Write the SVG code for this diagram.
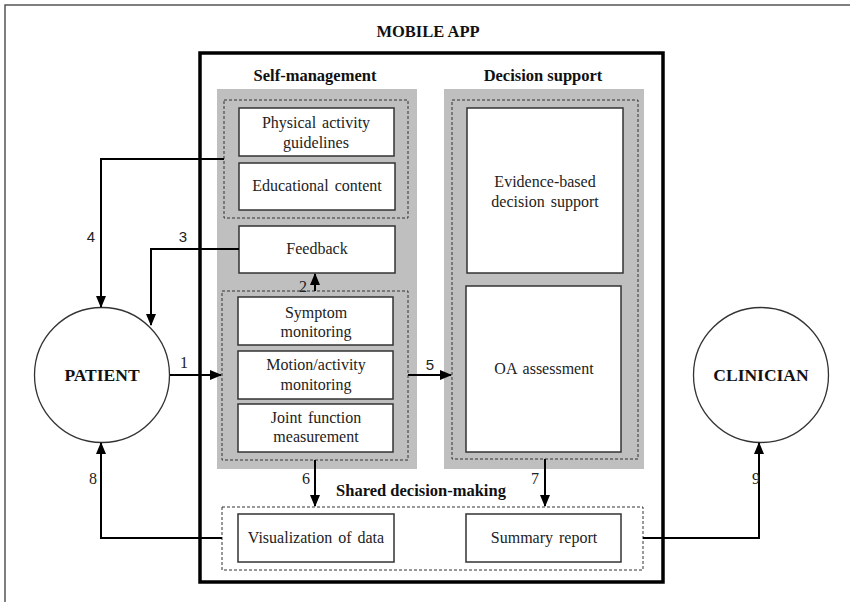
<svg xmlns="http://www.w3.org/2000/svg" width="850" height="602" viewBox="0 0 850 602">
<style>
.t{font-family:"Liberation Serif","Times New Roman",serif;font-size:16px;word-spacing:2px;fill:#222;text-anchor:middle}
.b{font-family:"Liberation Serif","Times New Roman",serif;font-size:16.5px;font-weight:bold;fill:#111;text-anchor:middle}
.c{font-family:"Liberation Serif","Times New Roman",serif;font-size:17.5px;font-weight:bold;fill:#111;text-anchor:middle}
.n{font-family:"Liberation Serif","Times New Roman",serif;font-size:16px;fill:#222;text-anchor:middle}
.ns{font-family:"Liberation Sans",Arial,sans-serif;font-size:15px;fill:#222;text-anchor:middle}
.box{fill:#fff;stroke:#333;stroke-width:1.5}
.grey{fill:#bfbfbf;stroke:none}
.dash{fill:none;stroke:#333;stroke-width:1;stroke-dasharray:3,2}
.con{fill:none;stroke:#000;stroke-width:2}
</style>
<defs>
<marker id="ah" markerUnits="userSpaceOnUse" markerWidth="12" markerHeight="10" refX="11" refY="5" orient="auto">
<path d="M0,0 L12,5 L0,10 Z" fill="#000"/>
</marker>
</defs>
<rect x="0" y="0" width="850" height="602" fill="#fff"/>
<path d="M5,602 V5 H850" fill="none" stroke="#555" stroke-width="1.5"/>

<g id="app">
<rect x="200" y="53" width="463" height="529" fill="#fff" stroke="#000" stroke-width="3.5"/>
<text class="b" x="428" y="37">MOBILE APP</text>
</g>

<g id="self-management">
<rect class="grey" x="217" y="89" width="200" height="380"/>
<text class="b" x="315" y="81">Self-management</text>
<rect class="dash" x="224" y="100" width="184" height="118"/>
<rect class="dash" x="222" y="291" width="186" height="169"/>
</g>
<g id="physical-activity"><rect class="box" x="239" y="108" width="155" height="48"/><text class="t" x="316" y="128">Physical activity</text><text class="t" x="316" y="148">guidelines</text></g>
<g id="educational"><rect class="box" x="239" y="163" width="156" height="47"/><text class="t" x="317" y="191">Educational content</text></g>
<g id="feedback"><rect class="box" x="239" y="226" width="156" height="47"/><text class="t" x="317" y="254">Feedback</text></g>
<g id="symptom"><rect class="box" x="238" y="297" width="155" height="48"/><text class="t" x="316" y="318">Symptom</text><text class="t" x="316" y="337">monitoring</text></g>
<g id="motion"><rect class="box" x="238" y="351" width="155" height="48"/><text class="t" x="316" y="370">Motion/activity</text><text class="t" x="316" y="390">monitoring</text></g>
<g id="joint"><rect class="box" x="238" y="404" width="155" height="48"/><text class="t" x="316" y="423">Joint function</text><text class="t" x="316" y="442">measurement</text></g>

<g id="decision-support">
<rect class="grey" x="444" y="89" width="200" height="380"/>
<text class="b" x="543" y="81">Decision support</text>
<rect class="dash" x="452" y="100" width="186" height="359"/>
</g>
<g id="evidence"><rect class="box" x="467" y="108" width="156" height="165"/><text class="t" x="545" y="187">Evidence-based</text><text class="t" x="545" y="207">decision support</text></g>
<g id="oa"><rect class="box" x="466" y="286" width="155" height="166"/><text class="t" x="544" y="374">OA assessment</text></g>

<g id="shared">
<text class="b" x="421" y="496">Shared decision-making</text>
<rect class="dash" x="222" y="507" width="421" height="63"/>
</g>
<g id="visualization"><rect class="box" x="238" y="514" width="156" height="48"/><text class="t" x="316" y="543">Visualization of data</text></g>
<g id="summary"><rect class="box" x="466" y="514" width="155" height="48"/><text class="t" x="544" y="543">Summary report</text></g>

<g id="patient"><circle cx="102" cy="375" r="67.5" fill="#fff" stroke="#333" stroke-width="1.3"/><text class="c" x="102" y="381">PATIENT</text></g>
<g id="clinician"><circle cx="761" cy="375" r="67.5" fill="#fff" stroke="#333" stroke-width="1.3"/><text class="c" x="761" y="381">CLINICIAN</text></g>

<g id="connectors">
<path class="con" d="M170,375 H221" marker-end="url(#ah)"/>
<path class="con" d="M315,291 V274" marker-end="url(#ah)"/>
<path class="con" d="M239,249 H151 V325" marker-end="url(#ah)"/>
<path class="con" d="M224,159 H101 V307" marker-end="url(#ah)"/>
<path class="con" d="M408,375 H451" marker-end="url(#ah)"/>
<path class="con" d="M315,460 V506" marker-end="url(#ah)"/>
<path class="con" d="M545,459 V506" marker-end="url(#ah)"/>
<path class="con" d="M222,538 H101 V443" marker-end="url(#ah)"/>
<path class="con" d="M643,538 H759 V443" marker-end="url(#ah)"/>
<text class="n" x="184" y="368">1</text>
<text class="n" x="303" y="292">2</text>
<text class="ns" x="183" y="242">3</text>
<text class="ns" x="91" y="242">4</text>
<text class="ns" x="430" y="370">5</text>
<text class="n" x="306" y="484">6</text>
<text class="n" x="535" y="484">7</text>
<text class="n" x="93" y="484">8</text>
<text class="n" x="756" y="484">9</text>
</g>
</svg>
